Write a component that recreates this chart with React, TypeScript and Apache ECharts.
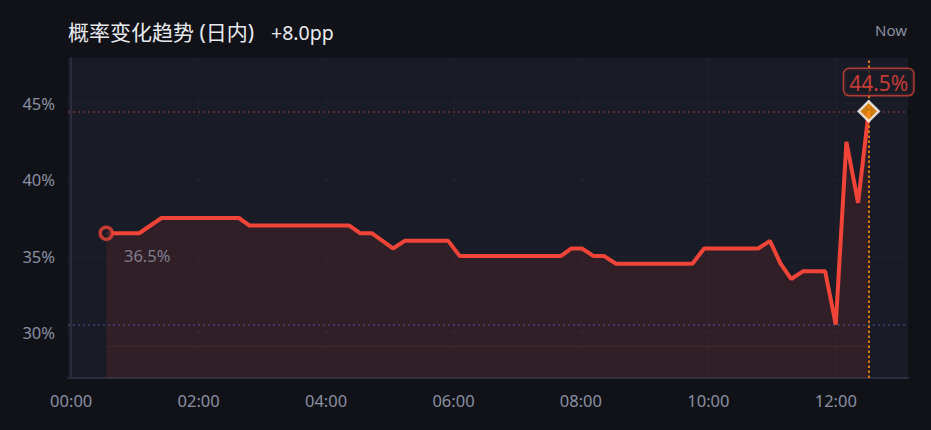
import React, { useEffect, useRef } from "react";
import * as echarts from "echarts";

// time in minutes since 00:00
const times = [33, 64, 85, 158, 168, 262, 272, 283, 303, 314, 355, 366, 461, 471, 481, 492, 502, 513, 585, 596, 647, 658, 668, 678, 689, 710, 720, 730, 741, 751];
// probability (%)
const values = [36.5, 36.5, 37.5, 37.5, 37.0, 37.0, 36.5, 36.5, 35.5, 36.0, 36.0, 35.0, 35.0, 35.5, 35.5, 35.0, 35.0, 34.5, 34.5, 35.5, 35.5, 36.0, 34.5, 33.5, 34.0, 34.0, 30.5, 42.5, 38.5, 44.5];
const xTicks = [0, 120, 240, 360, 480, 600, 720];
const yTicks = [30, 35, 40, 45];
const X_MIN = -3;
const X_MAX = 788;
const Y_MIN = 27;
const Y_MAX = 48;
const BAND_LEVEL = 29.1;
const TITLE = "概率变化趋势 (日内)";
const CHANGE = "+8.0pp";
const NOW_LABEL = "Now";

const FONT = '"Noto Sans", "Noto Sans CJK SC", sans-serif';
const RED = "#f04438";

const pad = (n: number) => (n < 10 ? "0" + n : "" + n);
const fmtTime = (m: number) => pad(Math.floor(m / 60)) + ":" + pad(Math.round(m % 60));

export default function App() {
  const ref = useRef<HTMLDivElement>(null);
  useEffect(() => {
    if (!ref.current) return;
    const chart = echarts.init(ref.current, undefined, { renderer: "svg" });
    const first = times[0];
    const last = times[times.length - 1];
    const firstV = values[0];
    const lastV = values[values.length - 1];
    const minV = Math.min(...values);
    const splitStyle = { color: "#21232f", type: [4, 4] as any, width: 1 };
    const axisLineStyle = { color: "#2a2d3d", width: 2 };
    chart.setOption({
      animation: false,
      backgroundColor: "#111217",
      textStyle: { fontFamily: FONT },
      grid: { left: 68, right: 23, top: 58, bottom: 52, show: true, backgroundColor: "#191b26", borderWidth: 0 },
      xAxis: {
        type: "value",
        min: X_MIN,
        max: X_MAX,
        axisLine: { show: true, lineStyle: axisLineStyle },
        axisTick: { show: false, customValues: xTicks },
        axisLabel: { customValues: xTicks, formatter: (v: number) => fmtTime(v), color: "#8a8fa3", fontSize: 16.5, margin: 14, fontFamily: FONT },
        splitLine: { show: true, lineStyle: splitStyle },
      },
      yAxis: {
        type: "value",
        min: Y_MIN,
        max: Y_MAX,
        axisLine: { show: true, lineStyle: axisLineStyle },
        axisTick: { show: false, customValues: yTicks },
        axisLabel: { customValues: yTicks, formatter: (v: number) => v + "%", color: "#8a8fa3", fontSize: 16.5, margin: 13, fontFamily: FONT },
        splitLine: { show: true, lineStyle: splitStyle },
      },
      series: [
        {
          type: "line",
          data: times.map((t, i) => [t, values[i]]),
          symbol: "none",
          lineStyle: { color: RED, width: 4 },
          areaStyle: { color: "rgba(244,67,54,0.15)", origin: "start" },
          z: 3,
          markLine: {
            silent: true,
            symbol: ["none", "none"],
            label: { show: false },
            data: [
              { yAxis: lastV, lineStyle: { color: "rgba(220,70,70,0.5)", type: [2, 3], width: 1.5 } },
              { yAxis: minV, lineStyle: { color: "rgba(80,100,190,0.55)", type: [2, 3], width: 1.5 } },
              { xAxis: last, lineStyle: { color: "#d9790a", type: [2.5, 2.5], width: 2 } },
              [
                { coord: [first, BAND_LEVEL], lineStyle: { color: "rgba(240,68,56,0.12)", type: "solid", width: 1 } },
                { coord: [last, BAND_LEVEL] },
              ],
            ],
          },
        },
        {
          type: "scatter",
          data: [[first, firstV]],
          symbol: "circle",
          symbolSize: 12,
          itemStyle: { color: "#191b26", borderColor: RED, borderWidth: 3.5 },
          label: {
            show: true,
            position: "right",
            distance: 10,
            offset: [0, 22],
            formatter: () => firstV.toFixed(1) + "%",
            color: "#9498aa",
            fontSize: 16.5,
            fontFamily: FONT,
          },
          z: 5,
        },
        {
          type: "scatter",
          data: [[last, lastV]],
          symbol: "diamond",
          symbolSize: 20,
          itemStyle: { color: "#f7930c", borderColor: "#ffffff", borderWidth: 2.5 },
          label: {
            show: true,
            position: "top",
            distance: 5,
            offset: [10, 0],
            formatter: () => lastV.toFixed(1) + "%",
            color: "#f2453a",
            fontSize: 21,
            fontFamily: FONT,
            borderColor: "#d2433a",
            borderWidth: 1.5,
            borderRadius: 5,
            padding: [3, 5, 2, 5],
            backgroundColor: "#191b26",
          },
          z: 6,
        },
      ],
      graphic: [
        {
          type: "text",
          x: 68,
          y: 32,
          style: { text: TITLE, fill: "#e8eaf0", fontSize: 21, fontFamily: FONT, textAlign: "left", textVerticalAlign: "middle" },
        },
        {
          type: "text",
          x: 271,
          y: 32,
          style: { text: CHANGE, fill: "#e8eaf0", fontSize: 19.5, fontFamily: FONT, textAlign: "left", textVerticalAlign: "middle" },
        },
        {
          type: "text",
          x: 907,
          y: 30,
          style: { text: NOW_LABEL, fill: "#8a8fa3", fontSize: 15, fontFamily: FONT, textAlign: "right", textVerticalAlign: "middle" },
        },
      ],
    });
    return () => chart.dispose();
  }, []);
  return <div ref={ref} style={{ position: "absolute", left: 0, top: 0, width: 931, height: 430 }} />;
}
